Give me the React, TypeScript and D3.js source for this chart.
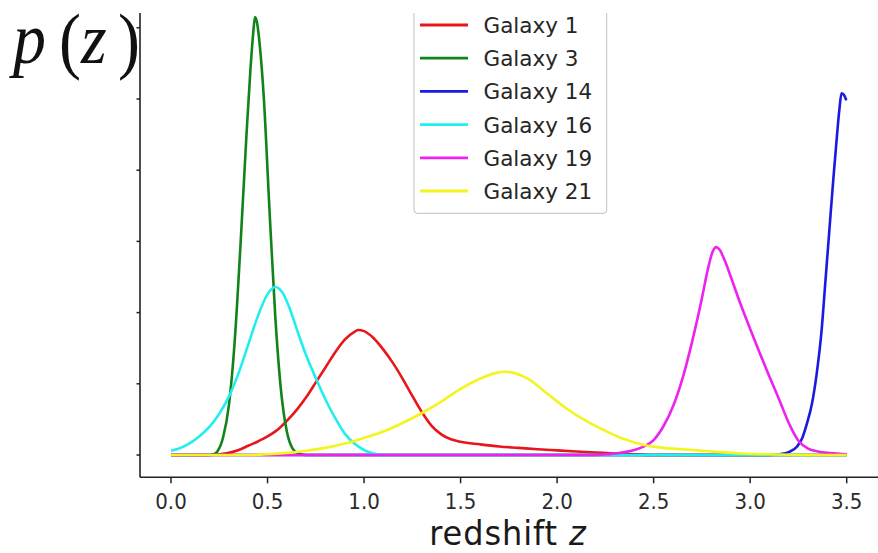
import React from 'react';
import * as d3 from 'd3';

const W = 878;
const H = 553;

// Photometric redshift probability densities, sampled as [z, p(z)]
const galaxy1: [number, number][] = [
  [0, 0], [0.2, 0], [0.25, 0.01], [0.3, 0.03], [0.35, 0.07], [0.4, 0.13], [0.45, 0.19],
  [0.5, 0.26], [0.55, 0.35], [0.6, 0.48], [0.65, 0.63], [0.7, 0.81], [0.75, 1.02],
  [0.8, 1.23], [0.85, 1.44], [0.9, 1.62], [0.95, 1.73], [0.97, 1.756], [1.0, 1.74],
  [1.05, 1.64], [1.1, 1.48], [1.15, 1.29], [1.2, 1.07], [1.25, 0.83], [1.3, 0.6],
  [1.35, 0.41], [1.4, 0.29], [1.45, 0.22], [1.5, 0.185], [1.6, 0.15], [1.7, 0.12],
  [1.8, 0.1], [1.9, 0.08], [2.0, 0.065], [2.1, 0.05], [2.2, 0.035], [2.3, 0.02],
  [2.4, 0.01], [2.5, 0], [3.5, 0],
];

const galaxy3: [number, number][] = [
  [0, 0], [0.2, 0], [0.22, 0.01], [0.24, 0.05], [0.27, 0.25], [0.3, 0.7], [0.33, 1.6],
  [0.36, 2.95], [0.39, 4.45], [0.41, 5.35], [0.425, 5.9], [0.435, 6.15], [0.445, 6.08],
  [0.46, 5.75], [0.48, 5.05], [0.51, 3.45], [0.54, 1.95], [0.57, 0.9], [0.6, 0.33],
  [0.63, 0.09], [0.66, 0.02], [0.7, 0], [3.5, 0],
];

const galaxy14: [number, number][] = [
  [0, 0], [3.1, 0], [3.15, 0.01], [3.2, 0.04], [3.243, 0.12], [3.27, 0.24], [3.295, 0.45],
  [3.32, 0.72], [3.345, 1.15], [3.37, 1.75], [3.39, 2.45], [3.41, 3.15], [3.43, 3.85],
  [3.45, 4.5], [3.462, 4.85], [3.473, 5.08], [3.485, 5.06], [3.498, 4.98],
];

const galaxy16: [number, number][] = [
  [0, 0.06], [0.05, 0.1], [0.1, 0.17], [0.15, 0.27], [0.2, 0.4], [0.25, 0.58], [0.3, 0.82],
  [0.35, 1.15], [0.4, 1.55], [0.45, 1.95], [0.5, 2.26], [0.54, 2.36], [0.58, 2.27],
  [0.62, 2.02], [0.66, 1.7], [0.7, 1.4], [0.75, 1.08], [0.8, 0.78], [0.85, 0.52],
  [0.9, 0.3], [0.95, 0.16], [1.0, 0.07], [1.05, 0.02], [1.1, 0], [3.5, 0],
];

const galaxy19: [number, number][] = [
  [0, 0], [2.2, 0], [2.3, 0.02], [2.35, 0.04], [2.4, 0.07], [2.45, 0.12], [2.5, 0.21],
  [2.55, 0.4], [2.6, 0.68], [2.65, 1.08], [2.7, 1.6], [2.75, 2.2], [2.78, 2.6],
  [2.805, 2.85], [2.823, 2.92], [2.84, 2.89], [2.87, 2.72], [2.9, 2.5], [2.95, 2.12],
  [3.0, 1.77], [3.05, 1.43], [3.1, 1.1], [3.15, 0.78], [3.2, 0.45], [3.25, 0.2],
  [3.3, 0.09], [3.35, 0.05], [3.4, 0.03], [3.45, 0.02], [3.5, 0.01],
];

const galaxy21: [number, number][] = [
  [0, 0], [0.4, 0], [0.5, 0.01], [0.6, 0.03], [0.7, 0.06], [0.8, 0.1], [0.9, 0.16],
  [1.0, 0.24], [1.1, 0.33], [1.2, 0.45], [1.3, 0.59], [1.4, 0.75], [1.5, 0.93],
  [1.6, 1.07], [1.68, 1.15], [1.73, 1.17], [1.78, 1.15], [1.85, 1.07], [1.95, 0.86],
  [2.05, 0.65], [2.15, 0.48], [2.25, 0.34], [2.35, 0.22], [2.45, 0.14], [2.55, 0.1],
  [2.65, 0.08], [2.75, 0.06], [2.85, 0.04], [2.95, 0.02], [3.1, 0.01], [3.3, 0], [3.5, 0],
];

const galaxyLabels = ['Galaxy 1', 'Galaxy 3', 'Galaxy 14', 'Galaxy 16', 'Galaxy 19', 'Galaxy 21'];
const galaxyCurves = [galaxy1, galaxy3, galaxy14, galaxy16, galaxy19, galaxy21];
const galaxyColors = ['#e8161b', '#12831a', '#1a1ae0', '#22eeee', '#ee22ee', '#f4f420'];

const xTicks = [0, 0.5, 1, 1.5, 2, 2.5, 3, 3.5];
const yTicks = [0, 1, 2, 3, 4, 5, 6];

// frame of the axes in pixels
const frame = { left: 140, right: 880, top: 13, bottom: 477.3 };

const x = d3.scaleLinear().domain([0, 3.5]).range([171, 846.7]);
const y = d3.scaleLinear().domain([0, 6]).range([455, 455 - 6 * 71.2]);

const line = d3
  .line<[number, number]>()
  .x((d) => x(d[0]))
  .y((d) => y(d[1]))
  .curve(d3.curveMonotoneX);

const fmt = d3.format('.1f');
const sans = '"DejaVu Sans", sans-serif';
const serif = '"Liberation Serif", "DejaVu Serif", serif';
const stretch = 1.08;

export default function App() {
  const legendX = 414;
  const legendRowY = (i: number) => 25 + i * 33.2;
  return (
    <svg
      width={W}
      height={H}
      style={{ position: 'absolute', left: 0, top: 0, background: '#fff' }}
    >
      <rect x={0} y={0} width={W} height={H} fill="#fff" />

      {/* curves */}
      <g fill="none" strokeWidth={2.6} strokeLinejoin="round" strokeLinecap="butt">
        {galaxyCurves.map((c, i) => (
          <path key={i} d={line(c) || ''} stroke={galaxyColors[i]} />
        ))}
      </g>

      {/* spines */}
      <g stroke="#222" strokeWidth={1.6}>
        <line x1={frame.left} x2={frame.left} y1={frame.top} y2={frame.bottom} />
        <line x1={frame.left} x2={frame.right} y1={frame.bottom} y2={frame.bottom} />
      </g>

      {/* x ticks */}
      {xTicks.map((t) => (
        <g key={t}>
          <line x1={x(t)} x2={x(t)} y1={frame.bottom} y2={frame.bottom + 6} stroke="#222" strokeWidth={1.5} />
          <text
            transform={`translate(${x(t)},508.8) scale(1,${stretch})`}
            textAnchor="middle"
            fontFamily={sans}
            fontSize={19.8}
            fill="#2a2a2a"
          >
            {fmt(t)}
          </text>
        </g>
      ))}

      {/* y ticks (unlabelled) */}
      {yTicks.map((t) => (
        <line key={t} x1={frame.left - 3.5} x2={frame.left} y1={y(t)} y2={y(t)} stroke="#222" strokeWidth={1.5} />
      ))}

      {/* x label */}
      <text
        transform={`translate(508,545) scale(1,1.05)`}
        textAnchor="middle"
        fontFamily={sans}
        fontSize={32}
        letterSpacing={0.9}
        fill="#1a1a1a"
      >
        redshift <tspan fontStyle="italic">z</tspan>
      </text>

      {/* y label */}
      <g fontFamily={serif} fontSize={66} fill="#111">
        <text transform={`translate(13,63) scale(1,${stretch})`} fontStyle="italic">p</text>
        <text transform={`translate(59,65) scale(1,1.105)`}>(</text>
        <text transform={`translate(81,63) scale(1,${stretch})`} fontStyle="italic">z</text>
        <text transform={`translate(118,65) scale(1,1.105)`}>)</text>
      </g>

      {/* legend */}
      <g>
        <path
          d={`M${legendX},${frame.top} V${213.3 - 4} Q${legendX},213.3 ${legendX + 4},213.3 H${606.7 - 4} Q606.7,213.3 606.7,${213.3 - 4} V${frame.top}`}
          fill="rgba(255,255,255,0.85)"
          stroke="#cccccc"
          strokeWidth={1.2}
        />
        {galaxyLabels.map((name, i) => (
          <g key={name}>
            <line
              x1={420}
              x2={468}
              y1={legendRowY(i)}
              y2={legendRowY(i)}
              stroke={galaxyColors[i]}
              strokeWidth={2.8}
            />
            <text
              x={483.5}
              y={legendRowY(i) + 7.9}
              fontFamily={sans}
              fontSize={21.5}
              fill="#262626"
            >
              {name}
            </text>
          </g>
        ))}
      </g>
    </svg>
  );
}
